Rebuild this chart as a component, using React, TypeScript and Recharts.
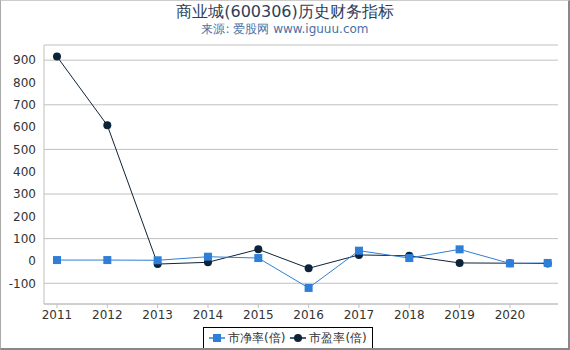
import React from 'react';
import { LineChart, Line, XAxis, YAxis, CartesianGrid } from 'recharts';

const years = [2011, 2012, 2013, 2014, 2015, 2016, 2017, 2018, 2019, 2020, 2020.75];
const pbValues = [4, 4, 3, 19, 13, -121, 46, 13, 52, -11, -9];
const peValues = [916, 608, -14, -6, 52, -33, 27, 23, -9, -10, -12];
const xTicks = [2011, 2012, 2013, 2014, 2015, 2016, 2017, 2018, 2019, 2020];
const yTicks = [-100, 0, 100, 200, 300, 400, 500, 600, 700, 800, 900];

const PB_COLOR = '#2f7ed8';
const PE_COLOR = '#0d233a';
const FONT = '"DejaVu Sans", sans-serif';

const data = years.map((year, i) => ({ year, pb: pbValues[i], pe: peValues[i] }));

const SquareDot = (props: any) => {
  const { cx, cy } = props;
  if (cx == null || cy == null) return null;
  return <rect x={cx - 4} y={cy - 4} width={8} height={8} fill={PB_COLOR} />;
};

const App: React.FC = () => {
  return (
    <div
      style={{
        position: 'absolute',
        left: 0,
        top: 0,
        width: 570,
        height: 350,
        boxSizing: 'border-box',
        borderLeft: '1px solid #aaa',
        borderTop: '1px solid #ccc',
        borderRight: '2px solid #888',
        borderBottom: '2px solid #888',
        background: '#fff',
        fontFamily: FONT,
        overflow: 'hidden',
      }}
    >
      <div style={{ position: 'absolute', left: -1, top: 0, width: 570, textAlign: 'center', fontSize: 16, color: '#2c3e5a', lineHeight: '22px' }}>
        商业城(600306)历史财务指标
      </div>
      <div style={{ position: 'absolute', left: -1, top: 19, width: 570, textAlign: 'center', fontSize: 12, color: '#4a6fa5', lineHeight: '18px' }}>
        来源: 爱股网 www.iguuu.com
      </div>
      <div style={{ position: 'absolute', left: -1, top: -1 }}>
        <LineChart width={570} height={350} data={data} margin={{ top: 45, right: 12, left: 0, bottom: 0 }}>
          <CartesianGrid horizontal vertical={false} stroke="#c0c0c0" />
          <XAxis
            dataKey="year"
            type="number"
            domain={[2010.742, 2020.955]}
            ticks={xTicks}
            allowDataOverflow
            height={46}
            tick={{ fill: '#333', fontSize: 12, fontFamily: FONT }}
            tickLine={{ stroke: '#c0c0c0' }}
            tickSize={4}
            axisLine={{ stroke: '#c0c0c0' }}
          />
          <YAxis
            type="number"
            domain={[-193, 968]}
            ticks={yTicks}
            allowDataOverflow
            width={44}
            tick={{ fill: '#333', fontSize: 12, fontFamily: FONT }}
            tickLine={false}
            axisLine={{ stroke: '#c0c0c0' }}
          />
          <Line
            dataKey="pe"
            stroke={PE_COLOR}
            strokeWidth={1}
            dot={{ r: 4, fill: PE_COLOR, stroke: PE_COLOR, strokeWidth: 0 }}
            isAnimationActive={false}
          />
          <Line
            dataKey="pb"
            stroke={PB_COLOR}
            strokeWidth={1}
            dot={<SquareDot />}
            isAnimationActive={false}
          />
        </LineChart>
      </div>
      <div
        style={{
          position: 'absolute',
          left: 202,
          top: 326,
          height: 20,
          padding: '0 5px',
          border: '1px solid #000',
          display: 'flex',
          alignItems: 'center',
          fontSize: 12,
          color: '#333',
          background: '#fff',
          whiteSpace: 'nowrap',
        }}
      >
        <svg width={16} height={10} style={{ marginRight: 3 }}>
          <line x1={0} y1={5} x2={16} y2={5} stroke={PB_COLOR} strokeWidth={1.5} />
          <rect x={4} y={1} width={8} height={8} fill={PB_COLOR} />
        </svg>
        <span style={{ marginRight: 5 }}>市净率(倍)</span>
        <svg width={16} height={10} style={{ marginRight: 3 }}>
          <line x1={0} y1={5} x2={16} y2={5} stroke={PE_COLOR} strokeWidth={1.5} />
          <circle cx={8} cy={5} r={4} fill={PE_COLOR} />
        </svg>
        <span>市盈率(倍)</span>
      </div>
    </div>
  );
};

export default App;
